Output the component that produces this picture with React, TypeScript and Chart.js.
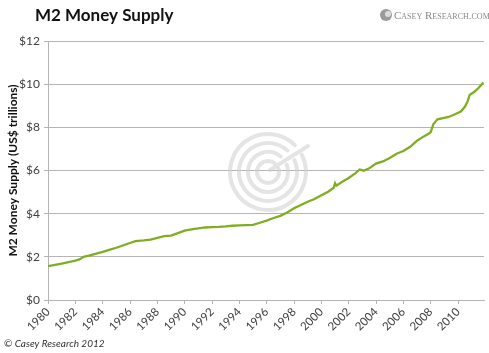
import React, { useEffect, useRef } from "react";
import { Chart, registerables } from "chart.js";

Chart.register(...registerables);

const years: number[] = [
  1980.0, 1981.0, 1982.0, 1982.3, 1982.6, 1983.0, 1984.0, 1984.6, 1985.0, 1986.0,
  1986.4, 1987.0, 1987.5, 1988.0, 1988.5, 1989.0, 1989.5, 1990.0, 1990.7, 1991.0,
  1991.5, 1992.0, 1992.5, 1993.0, 1993.5, 1994.0, 1994.5, 1995.0, 1995.5, 1996.0,
  1996.5, 1997.0, 1997.5, 1998.0, 1998.5, 1999.0, 1999.5, 2000.0, 2000.5, 2000.9,
  2001.0, 2001.1, 2001.5, 2002.0, 2002.5, 2002.8, 2003.1, 2003.5, 2004.0, 2004.5,
  2005.0, 2005.5, 2006.0, 2006.5, 2007.0, 2007.5, 2007.9, 2008.0, 2008.2, 2008.5,
  2008.9, 2009.3, 2009.7, 2010.2, 2010.5, 2010.7, 2010.85, 2011.2, 2011.5, 2011.85,
];

const m2Trillions: number[] = [
  1.57, 1.69, 1.82, 1.88, 2.0, 2.06, 2.23, 2.35, 2.42, 2.64,
  2.73, 2.76, 2.8, 2.88, 2.96, 2.98, 3.1, 3.21, 3.3, 3.32,
  3.36, 3.38, 3.39, 3.41, 3.44, 3.46, 3.47, 3.48, 3.58, 3.68,
  3.8, 3.9, 4.05, 4.25, 4.4, 4.55, 4.68, 4.85, 5.02, 5.2,
  5.41, 5.3, 5.47, 5.65, 5.88, 6.05, 5.99, 6.1, 6.32, 6.42,
  6.58, 6.78, 6.9, 7.1, 7.38, 7.58, 7.72, 7.78, 8.15, 8.37,
  8.43, 8.48, 8.58, 8.73, 8.95, 9.2, 9.5, 9.65, 9.82, 10.08,
];

const xTickYears: number[] = [
  1980, 1982, 1984, 1986, 1988, 1990, 1992, 1994, 1996, 1998, 2000, 2002, 2004, 2006, 2008, 2010,
];
const yTicks: number[] = [0, 2, 4, 6, 8, 10, 12];

const chartTitle = "M2 Money Supply";
const yAxisTitle = "M2 Money Supply (US$ trillions)";
const logoText = "Casey Research.com";
const copyrightText = "© Casey Research 2012";

const FONT = "Lato, 'Open Sans', sans-serif";

const decorPlugin = {
  id: "decor",
  beforeDatasetsDraw(chart: any) {
    const ctx = chart.ctx as CanvasRenderingContext2D;
    // faint watermark (concentric rings)
    const cx = 268;
    const cy = 172;
    ctx.save();
    ctx.strokeStyle = "rgba(205,205,205,0.55)";
    ctx.lineWidth = 4;
    ctx.lineCap = "round";
    const radii = [38, 29, 20, 11];
    radii.forEach((r, i) => {
      ctx.beginPath();
      ctx.arc(cx, cy, r, -0.15 * Math.PI + i * 0.05, 1.75 * Math.PI - i * 0.05);
      ctx.stroke();
    });
    ctx.beginPath();
    ctx.moveTo(cx + 2, cy - 2);
    ctx.lineTo(cx + 40, cy - 26);
    ctx.stroke();
    ctx.restore();
  },
  afterDraw(chart: any) {
    const ctx = chart.ctx as CanvasRenderingContext2D;
    ctx.save();
    // title
    ctx.fillStyle = "#111111";
    ctx.font = `bold 17px ${FONT}`;
    ctx.textBaseline = "middle";
    ctx.textAlign = "left";
    ctx.fillText(chartTitle, 35, 16);
    // logo icon
    ctx.fillStyle = "#9a9a9a";
    ctx.beginPath();
    ctx.arc(386, 15, 6, 0, Math.PI * 2);
    ctx.fill();
    ctx.fillStyle = "#dcdcdc";
    ctx.beginPath();
    ctx.arc(388, 14, 3, 0, Math.PI * 2);
    ctx.fill();
    // logo text
    ctx.fillStyle = "#8a8a8a";
    ctx.font = `11px 'Liberation Serif', 'DejaVu Serif', serif`;
    try {
      (ctx as any).fontVariantCaps = "small-caps";
    } catch (e) {}
    ctx.fillText(logoText, 394, 16);
    (ctx as any).fontVariantCaps = "normal";
    // copyright
    ctx.fillStyle = "#333333";
    ctx.font = `italic 10px ${FONT}`;
    ctx.fillText(copyrightText, 4, 344);
    ctx.restore();
  },
};

export default function App() {
  const canvasRef = useRef<HTMLCanvasElement | null>(null);

  useEffect(() => {
    document.body.style.margin = "0";
    const canvas = canvasRef.current;
    if (!canvas) return;
    const chart = new Chart(canvas, {
      type: "line",
      data: {
        datasets: [
          {
            label: "M2",
            data: years.map((y, i) => ({ x: y, y: m2Trillions[i] })),
            borderColor: "#7fae22",
            borderWidth: 2.3,
            pointRadius: 0,
            tension: 0,
            fill: false,
          },
        ],
      },
      options: {
        animation: false,
        responsive: false,
        maintainAspectRatio: false,
        layout: { padding: { left: 0, right: 5, top: 41, bottom: 0 } },
        plugins: {
          legend: { display: false },
          tooltip: { enabled: false },
        },
        scales: {
          x: {
            type: "linear",
            min: 1980,
            max: 2011.9,
            afterBuildTicks: (scale: any) => {
              scale.ticks = xTickYears.map((v) => ({ value: v }));
            },
            afterFit: (scale: any) => {
              scale.height = 53;
            },
            ticks: {
              autoSkip: false,
              maxRotation: 45,
              minRotation: 45,
              color: "#404040",
              font: { family: FONT, size: 11.5 },
              padding: 1,
              callback: (v: any) => String(v),
            },
            grid: {
              drawOnChartArea: false,
              drawTicks: true,
              tickLength: 4,
              color: "#b5b5b5",
            },
            border: { color: "#b5b5b5" },
          },
          y: {
            min: 0,
            max: 12,
            afterBuildTicks: (scale: any) => {
              scale.ticks = yTicks.map((v) => ({ value: v }));
            },
            afterFit: (scale: any) => {
              scale.width = 48;
            },
            ticks: {
              color: "#404040",
              font: { family: FONT, size: 12 },
              padding: 4,
              callback: (v: any) => "$" + v,
            },
            grid: {
              color: "#b5b5b5",
              tickLength: 4,
              drawTicks: true,
            },
            border: { color: "#b5b5b5" },
            title: {
              display: true,
              text: yAxisTitle,
              color: "#111111",
              font: { family: FONT, size: 12, weight: "bold" },
              padding: { top: 6, bottom: 0 },
            },
          },
        },
      },
      plugins: [decorPlugin],
    });
    return () => chart.destroy();
  }, []);

  return (
    <div style={{ width: 489, height: 353, background: "#ffffff" }}>
      <canvas ref={canvasRef} width={489} height={353} />
    </div>
  );
}
